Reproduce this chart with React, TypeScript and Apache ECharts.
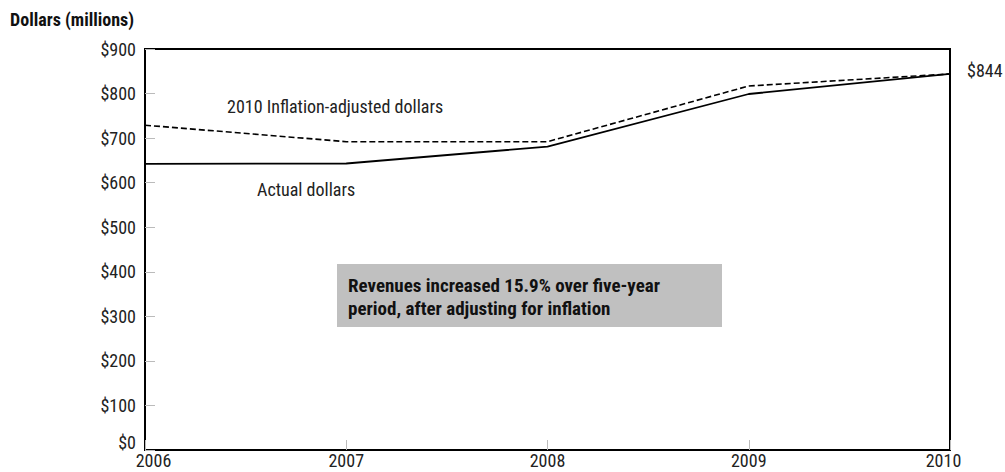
import React, { useEffect, useRef } from "react";
import * as echarts from "echarts";

const years = ["2006", "2007", "2008", "2009", "2010"];
const actualDollars = [642, 643, 681, 799, 844];
const adjustedDollars = [729, 692, 692, 817, 844];
const yTicks = [0, 100, 200, 300, 400, 500, 600, 700, 800, 900];

const FONT = "'Liberation Sans Narrow', 'Arial Narrow', 'Roboto Condensed', sans-serif";

export default function App() {
  const ref = useRef<HTMLDivElement>(null);
  useEffect(() => {
    if (!ref.current) return;
    const chart = echarts.init(ref.current, undefined, { renderer: "svg" });
    const lastIdx = years.length - 1;
    const xData = years.map((y, i) => {
      if (i === 0) return { value: y, textStyle: { padding: [0, 0, 0, 17] } };
      if (i === lastIdx) return { value: y, textStyle: { padding: [0, 13, 0, 0] } };
      return y;
    });
    chart.setOption({
      animation: false,
      backgroundColor: "#ffffff",
      textStyle: { fontFamily: FONT },
      grid: {
        left: 145,
        right: 55,
        top: 49,
        bottom: 22,
        show: true,
        borderColor: "#000",
        borderWidth: 2,
        backgroundColor: "transparent",
      },
      xAxis: {
        type: "category",
        data: xData,
        boundaryGap: false,
        axisLine: { lineStyle: { color: "#000", width: 2 } },
        axisTick: { inside: true, length: 10, lineStyle: { color: "#bbbbbb" } },
        axisLabel: { color: "#222", fontSize: 18, margin: 1, fontFamily: FONT },
        splitLine: { show: false },
      },
      yAxis: {
        type: "value",
        min: yTicks[0],
        max: yTicks[yTicks.length - 1],
        interval: 100,
        axisLine: { show: true, lineStyle: { color: "#000", width: 2 } },
        axisTick: { show: true, inside: true, length: 10, lineStyle: { color: "#bbbbbb" } },
        axisLabel: {
          color: "#222",
          fontSize: 18,
          margin: 9,
          fontFamily: FONT,
          formatter: (v: number) => (v === 0 ? "{zero|$0}" : "$" + v),
          rich: {
            zero: {
              fontSize: 18,
              fontFamily: FONT,
              color: "#222",
              padding: [0, 0, 16, 0],
            },
          },
        },
        splitLine: { show: false },
      },
      series: [
        {
          name: "Actual dollars",
          type: "line",
          data: actualDollars,
          symbol: "none",
          lineStyle: { color: "#000", width: 1.8 },
          endLabel: {
            show: true,
            formatter: (p: any) => "$" + p.value,
            color: "#222",
            fontSize: 18,
            fontFamily: FONT,
            distance: 17,
            offset: [0, -3],
          },
          z: 3,
        },
        {
          name: "2010 Inflation-adjusted dollars",
          type: "line",
          data: adjustedDollars,
          symbol: "none",
          lineStyle: { color: "#000", width: 1.6, type: [6, 3] },
          z: 3,
        },
      ],
      graphic: [
        {
          type: "text",
          x: 10,
          y: 19,
          style: {
            text: "Dollars (millions)",
            fill: "#111",
            font: "bold 18px " + FONT,
            textVerticalAlign: "middle",
          },
        },
        {
          type: "text",
          x: 227,
          y: 106,
          style: {
            text: "2010 Inflation-adjusted dollars",
            fill: "#222",
            font: "18px " + FONT,
            textVerticalAlign: "middle",
          },
        },
        {
          type: "text",
          x: 257,
          y: 189,
          style: {
            text: "Actual dollars",
            fill: "#222",
            font: "18px " + FONT,
            textVerticalAlign: "middle",
          },
        },
        {
          type: "rect",
          shape: { x: 337, y: 264, width: 385, height: 63 },
          style: { fill: "#c0c0c0" },
          z: 1,
        },
        {
          type: "text",
          x: 348,
          y: 274,
          z: 2,
          style: {
            text: "Revenues increased 15.9% over five-year\nperiod, after adjusting for inflation",
            fill: "#111",
            font: "bold 19px " + FONT,
            lineHeight: 23,
          },
        },
      ],
    });
    return () => chart.dispose();
  }, []);
  return (
    <div
      ref={ref}
      style={{ position: "fixed", left: 0, top: 0, width: 1005, height: 472 }}
    />
  );
}
